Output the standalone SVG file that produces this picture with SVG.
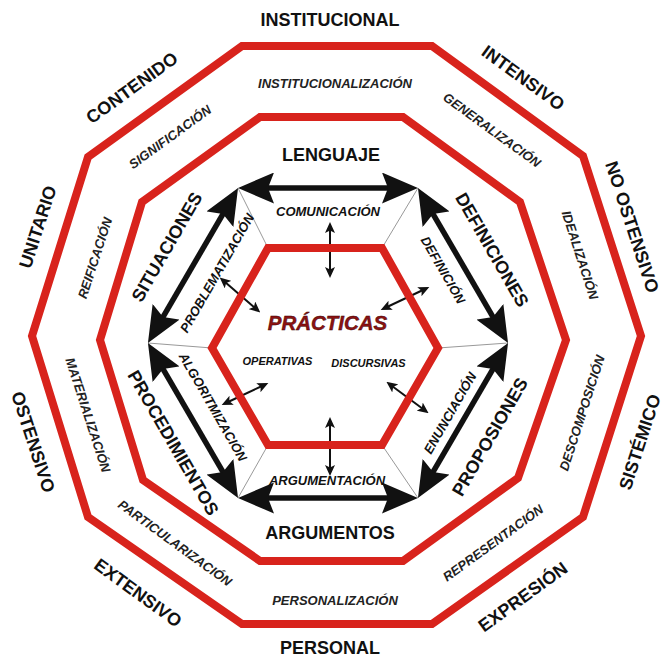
<svg xmlns="http://www.w3.org/2000/svg" width="670" height="659" viewBox="0 0 670 659">
<style>
.red{fill:none;stroke:#d8231c;stroke-width:8;stroke-linejoin:miter}
.thin{stroke:#999;stroke-width:1;fill:none}
.big{stroke:#111;stroke-width:5.5;fill:none;marker-start:url(#bh);marker-end:url(#bh)}
.sm{stroke:#111;stroke-width:2;fill:none;marker-start:url(#sh);marker-end:url(#sh)}
text{font-family:"Liberation Sans",Arial,sans-serif;text-anchor:middle;dominant-baseline:central;fill:#111;font-weight:bold}
.o{font-size:18px}
.r{font-size:13px;font-style:italic;fill:#222}
.t{font-size:18px}
.i{font-size:13px;font-style:italic}
.c{font-size:20.5px;font-style:italic;fill:#8b1212;stroke:#3a0000;stroke-width:0.4}
.s{font-size:11px;font-style:italic}
</style>
<defs>
<marker id="bh" viewBox="0 0 36 31" refX="16" refY="15.5" markerWidth="36" markerHeight="31" markerUnits="userSpaceOnUse" orient="auto-start-reverse">
<path d="M0,0 L36,15.5 L0,31 L6,15.5 z" fill="#111"/>
</marker>
<marker id="sh" viewBox="0 0 11 10" refX="4" refY="5" markerWidth="11" markerHeight="10" markerUnits="userSpaceOnUse" orient="auto-start-reverse">
<path d="M0,0 L11,5 L0,10 L2.5,5 z" fill="#111"/>
</marker>
</defs>
<rect width="670" height="659" fill="#fff"/>
<g id="rings">
<polygon id="outer" class="red" points="242,46 432,46 583,156 641,336 583,517 432,624 242,624 88,517 32,336 88,157"/>
<polygon id="middle" class="red" points="260,117 403,117 520,202 566,340 518,478 403,561 260,561 143,480 100,340 142,202"/>
</g>
<g id="connectors">
<line class="thin" x1="268" y1="248" x2="238" y2="188"/>
<line class="thin" x1="382" y1="248" x2="418" y2="188"/>
<line class="thin" x1="438" y1="348" x2="508" y2="343"/>
<line class="thin" x1="382" y1="445" x2="418" y2="498"/>
<line class="thin" x1="268" y1="445" x2="238" y2="498"/>
<line class="thin" x1="212" y1="348" x2="148" y2="343"/>
<line class="big" x1="258" y1="188" x2="398" y2="188"/>
<line class="big" x1="428" y1="205.3" x2="498" y2="325.7"/>
<line class="big" x1="498" y1="360.3" x2="428" y2="480.7"/>
<line class="big" x1="398" y1="498" x2="258" y2="498"/>
<line class="big" x1="228" y1="480.7" x2="158" y2="360.3"/>
<line class="big" x1="158" y1="325.7" x2="228" y2="205.3"/>
<line class="sm" x1="330" y1="229" x2="330" y2="271"/>
<line class="sm" x1="225" y1="282" x2="255" y2="308"/>
<line class="sm" x1="423" y1="290" x2="387" y2="307"/>
<line class="sm" x1="228" y1="402" x2="262" y2="386"/>
<line class="sm" x1="392" y1="386" x2="423" y2="409"/>
<line class="sm" x1="330" y1="424" x2="330" y2="469"/>
</g>
<g id="practicas">
<polygon class="red" points="268,248 382,248 438,348 382,445 268,445 212,348"/>
<text class="c" x="327.5" y="322.5">PRÁCTICAS</text>
<text class="s" x="277.5" y="361">OPERATIVAS</text>
<text class="s" x="368.5" y="362.5">DISCURSIVAS</text>
</g>
<g id="outer-labels">
<text class="o" x="330" y="19.5">INSTITUCIONAL</text>
<text class="o" transform="translate(523,78) rotate(36)">INTENSIVO</text>
<text class="o" transform="translate(632,227) rotate(72)">NO OSTENSIVO</text>
<text class="o" transform="translate(640,442) rotate(-72)">SISTÉMICO</text>
<text class="o" transform="translate(523,597) rotate(-36)">EXPRESIÓN</text>
<text class="o" x="330" y="648">PERSONAL</text>
<text class="o" transform="translate(138,593) rotate(36)">EXTENSIVO</text>
<text class="o" transform="translate(33,442) rotate(72)">OSTENSIVO</text>
<text class="o" transform="translate(38,227) rotate(-72)">UNITARIO</text>
<text class="o" transform="translate(132,88) rotate(-36)">CONTENIDO</text>
</g>
<g id="ring-labels">
<text class="r" x="335" y="83">INSTITUCIONALIZACIÓN</text>
<text class="r" transform="translate(492,130) rotate(36)">GENERALIZACIÓN</text>
<text class="r" transform="translate(580,255) rotate(72)">IDEALIZACIÓN</text>
<text class="r" transform="translate(582,413) rotate(-72)">DESCOMPOSICIÓN</text>
<text class="r" transform="translate(493,543) rotate(-36)">REPRESENTACIÓN</text>
<text class="r" x="335" y="600">PERSONALIZACIÓN</text>
<text class="r" transform="translate(175,543) rotate(36)">PARTICULARIZACIÓN</text>
<text class="r" transform="translate(88,415) rotate(72)">MATERIALIZACIÓN</text>
<text class="r" transform="translate(95,258) rotate(-72)">REIFICACIÓN</text>
<text class="r" transform="translate(170,137) rotate(-36)">SIGNIFICACIÓN</text>
</g>
<g id="objects">
<text class="t" x="331" y="154.5">LENGUAJE</text>
<text class="t" transform="translate(492,250) rotate(60)">DEFINICIONES</text>
<text class="t" transform="translate(490,437) rotate(-60)">PROPOSIONES</text>
<text class="t" x="330" y="533">ARGUMENTOS</text>
<text class="t" transform="translate(173,443) rotate(60)">PROCEDIMIENTOS</text>
<text class="t" transform="translate(167,247) rotate(-60)">SITUACIONES</text>
</g>
<g id="processes">
<text class="i" x="328" y="211.5">COMUNICACIÓN</text>
<text class="i" transform="translate(443,270) rotate(60)">DEFINICIÓN</text>
<text class="i" transform="translate(450,413) rotate(-60)">ENUNCIACIÓN</text>
<text class="i" x="327" y="480">ARGUMENTACIÓN</text>
<text class="i" transform="translate(213,407) rotate(60)">ALGORITMIZACIÓN</text>
<text class="i" transform="translate(217,273) rotate(-60)">PROBLEMATIZACIÓN</text>
</g>
</svg>
